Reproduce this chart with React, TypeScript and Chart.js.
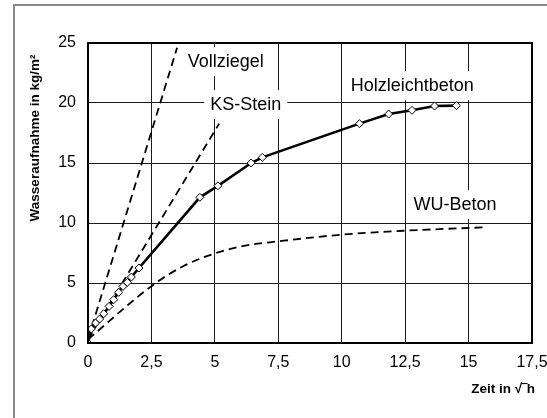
import React, { useEffect, useRef } from "react";
import { Chart, registerables } from "chart.js";

Chart.register(...registerables);

// ---- data ----
const holzX = [0, 0.13, 0.3, 0.46, 0.62, 0.83, 1.01, 1.21, 1.38, 1.55, 1.71, 2.01, 4.41, 5.12, 6.43, 6.87, 10.7, 11.85, 12.77, 13.66, 14.52];
const holzY = [0, 1.17, 1.67, 2.0, 2.44, 3.05, 3.61, 4.22, 4.72, 5.05, 5.5, 6.25, 12.14, 13.1, 15.0, 15.47, 18.28, 19.08, 19.39, 19.75, 19.78];

const vollX = [0, 3.51];
const vollY = [0.3, 24.6];

const ksX = [0, 5.17];
const ksY = [0.3, 18.28];

const wuX = [0, 2.58, 3.75, 5.05, 6.25, 7.5, 10, 12.5, 15.66];
const wuY = [0.3, 4.86, 6.4, 7.5, 8.14, 8.47, 9.03, 9.36, 9.64];

const xTickValues = [0, 2.5, 5, 7.5, 10, 12.5, 15, 17.5];
const yTickValues = [0, 5, 10, 15, 20, 25];

const labelTexts = ["Vollziegel", "KS-Stein", "Holzleichtbeton", "WU-Beton"];
const labelX = [5.43, 6.22, 12.78, 14.47];
const labelY = [23.44, 19.86, 21.44, 11.53];

const yTitle = "Wasseraufnahme in kg/m²";
const xTitle = "Zeit in √‾h";

const FONT = "Arial, 'Liberation Sans', sans-serif";

const toPoints = (xs: number[], ys: number[]) => xs.map((x, i) => ({ x, y: ys[i] }));

const decorPlugin = {
  id: "decor",
  beforeDraw(chart: any) {
    const ctx = chart.ctx;
    ctx.save();
    ctx.fillStyle = "#fff";
    ctx.fillRect(0, 0, chart.width, chart.height);
    ctx.strokeStyle = "#8a8a8a";
    ctx.lineWidth = 2;
    ctx.beginPath();
    ctx.moveTo(14, chart.height);
    ctx.lineTo(14, 5);
    ctx.lineTo(chart.width, 5);
    ctx.stroke();
    ctx.restore();
  },
  beforeDatasetsDraw(chart: any) {
    const ctx = chart.ctx;
    const xs = chart.scales.x;
    const ys = chart.scales.y;
    ctx.save();
    ctx.font = `18px ${FONT}`;
    ctx.textAlign = "center";
    ctx.textBaseline = "middle";
    labelTexts.forEach((t, i) => {
      const px = xs.getPixelForValue(labelX[i]);
      const py = ys.getPixelForValue(labelY[i]);
      const w = ctx.measureText(t).width + 12;
      const h = 29;
      ctx.fillStyle = "#fff";
      ctx.fillRect(px - w / 2, py - h / 2, w, h);
      ctx.fillStyle = "#000";
      ctx.fillText(t, px, py);
    });
    ctx.restore();
  },
  afterDatasetsDraw(chart: any) {
    const ctx = chart.ctx;
    const a = chart.chartArea;
    ctx.save();
    ctx.strokeStyle = "#000";
    ctx.lineWidth = 2;
    ctx.strokeRect(a.left, a.top, a.right - a.left, a.bottom - a.top);
    ctx.restore();
  },
  afterDraw(chart: any) {
    const ctx = chart.ctx;
    ctx.save();
    ctx.fillStyle = "#000";
    ctx.font = `bold 13.5px ${FONT}`;
    // y title
    ctx.translate(35, 138);
    ctx.rotate(-Math.PI / 2);
    ctx.textAlign = "center";
    ctx.textBaseline = "middle";
    ctx.fillText(yTitle, 0, 0);
    ctx.setTransform(1, 0, 0, 1, 0, 0);
    // x title
    ctx.textAlign = "right";
    ctx.textBaseline = "middle";
    ctx.fillText(xTitle, 535, 389);
    ctx.restore();
  },
};

export default function App() {
  const ref = useRef<HTMLCanvasElement | null>(null);

  useEffect(() => {
    if (!ref.current) return;
    const chart = new Chart(ref.current, {
      type: "line",
      data: {
        datasets: [
          {
            label: "Holzleichtbeton",
            data: toPoints(holzX, holzY),
            borderColor: "#000",
            borderWidth: 2.6,
            pointStyle: "rectRot",
            pointRadius: 4,
            pointBackgroundColor: "#fff",
            pointBorderColor: "#000",
            pointBorderWidth: 1,
            tension: 0,
          },
          {
            label: "Vollziegel",
            data: toPoints(vollX, vollY),
            borderColor: "#000",
            borderWidth: 1.8,
            borderDash: [8, 5],
            pointRadius: 0,
          },
          {
            label: "KS-Stein",
            data: toPoints(ksX, ksY),
            borderColor: "#000",
            borderWidth: 1.8,
            borderDash: [8, 5],
            pointRadius: 0,
          },
          {
            label: "WU-Beton",
            data: toPoints(wuX, wuY),
            borderColor: "#000",
            borderWidth: 1.8,
            borderDash: [8, 5],
            pointRadius: 0,
            cubicInterpolationMode: "monotone",
          },
        ],
      },
      options: {
        responsive: false,
        animation: false,
        devicePixelRatio: 1,
        layout: { padding: { left: 0, top: 43, right: 15, bottom: 0 } },
        plugins: { legend: { display: false }, tooltip: { enabled: false } },
        scales: {
          x: {
            type: "linear",
            min: 0,
            max: 17.5,
            afterBuildTicks: (s: any) => {
              s.ticks = xTickValues.map((v) => ({ value: v }));
            },
            afterFit: (s: any) => {
              s.height = 75;
              s.paddingLeft = 0;
              s.paddingRight = 0;
            },
            ticks: {
              color: "#000",
              font: { family: FONT, size: 16 },
              padding: 10,
              maxRotation: 0,
              autoSkip: false,
              callback: (v: any) => String(v).replace(".", ","),
            },
            grid: { color: "#1a1a1a", lineWidth: 1, drawTicks: false },
            border: { color: "#000", width: 2 },
          },
          y: {
            type: "linear",
            min: 0,
            max: 25,
            afterBuildTicks: (s: any) => {
              s.ticks = yTickValues.map((v) => ({ value: v }));
            },
            afterFit: (s: any) => {
              s.width = 88;
              s.paddingTop = 0;
              s.paddingBottom = 0;
            },
            ticks: {
              color: "#000",
              font: { family: FONT, size: 16 },
              padding: 12,
              autoSkip: false,
              callback: (v: any) => String(v).replace(".", ","),
            },
            grid: { color: "#1a1a1a", lineWidth: 1, drawTicks: false },
            border: { color: "#000", width: 2 },
          },
        },
      },
      plugins: [decorPlugin],
    } as any);
    return () => chart.destroy();
  }, []);

  return (
    <div style={{ position: "fixed", left: 0, top: 0, width: 547, height: 418, background: "#fff" }}>
      <canvas ref={ref} width={547} height={418} style={{ width: 547, height: 418, display: "block" }} />
    </div>
  );
}
